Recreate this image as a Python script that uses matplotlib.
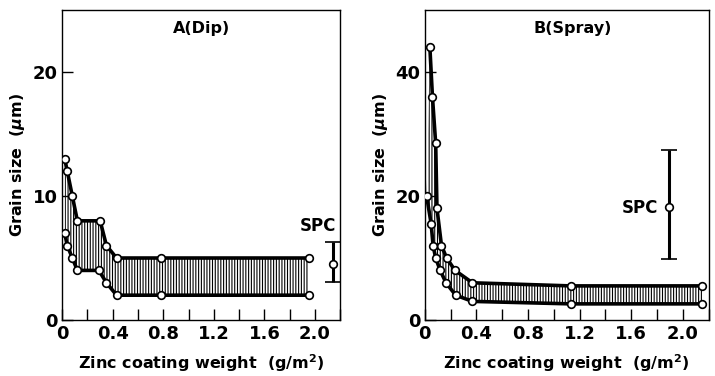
import matplotlib
matplotlib.use("Agg")
import matplotlib.pyplot as plt
import numpy as np

plt.rcParams['font.family'] = ['DejaVu Sans']
plt.rcParams['font.weight'] = 'bold'
plt.rcParams['hatch.linewidth'] = 0.8

# panel A (dip)
a_up_x = [0.02, 0.04, 0.08, 0.12, 0.30, 0.35, 0.43, 0.78, 1.95]
a_up_y = [13.0, 12.0, 10.0, 8.0, 8.0, 6.0, 5.0, 5.0, 5.0]
a_lo_x = [0.02, 0.04, 0.08, 0.12, 0.29, 0.35, 0.43, 0.78, 1.95]
a_lo_y = [7.0, 6.0, 5.0, 4.0, 4.0, 3.0, 2.0, 2.0, 2.0]
a_spc = (2.14, 4.5, 3.1, 6.3)  # x, mean, min, max

# panel B (spray)
b_up_x = [0.04, 0.06, 0.085, 0.095, 0.13, 0.17, 0.235, 0.37, 1.13, 2.15]
b_up_y = [44.0, 36.0, 28.5, 18.0, 12.0, 10.0, 8.0, 6.0, 5.5, 5.5]
b_lo_x = [0.015, 0.05, 0.065, 0.085, 0.12, 0.165, 0.24, 0.37, 1.13, 2.15]
b_lo_y = [20.0, 15.5, 12.0, 10.0, 8.0, 6.0, 4.0, 3.0, 2.6, 2.6]
b_spc = (1.89, 18.3, 9.9, 27.5)

x_ticks = [0, 0.4, 0.8, 1.2, 1.6, 2.0]
x_labels = ['0', '0.4', '0.8', '1.2', '1.6', '2.0']


def draw_panel(ax, ux, uy, lx, ly, spc, ymax, yticks, title, title_x, spc_txt_xy):
    px = np.concatenate([ux, lx[::-1]])
    py = np.concatenate([uy, ly[::-1]])
    ax.fill(px, py, facecolor='white', edgecolor='black', hatch='||||||', linewidth=0)
    for x, y in [(ux, uy), (lx, ly)]:
        ax.plot(x, y, color='black', lw=2.6, marker='o', ms=5.5,
                mfc='white', mec='black', mew=1.2, zorder=3)
    sx, sm, slo, shi = spc
    ax.errorbar([sx], [sm], yerr=[[sm - slo], [shi - sm]], fmt='o', color='black',
                ms=5.5, mfc='white', mec='black', mew=1.2, elinewidth=2.2,
                capsize=6, capthick=1.8, zorder=3)
    ax.text(spc_txt_xy[0], spc_txt_xy[1], 'SPC', fontsize=12, fontweight='bold',
            ha='center', va='center')
    ax.set_xlim(0, 2.2)
    ax.set_ylim(0, ymax)
    ax.set_xticks(np.arange(0, 2.21, 0.2), minor=True)
    ax.set_xticks(x_ticks)
    ax.set_xticklabels(x_labels, fontsize=13, fontweight='bold')
    ax.set_yticks(yticks)
    ax.set_yticklabels([str(t) for t in yticks], fontsize=13, fontweight='bold')
    ax.tick_params(direction='in', length=8, width=1, which='both')
    ax.tick_params(axis='y', pad=3)
    for s in ax.spines.values():
        s.set_linewidth(1.0)
    ax.text(title_x, 0.94, title, transform=ax.transAxes, fontsize=11.5,
            fontweight='bold', ha='center', va='center')
    ax.set_xlabel('Zinc coating weight  (g/m$^\\mathbf{2}$)', fontsize=11.5,
                  fontweight='bold', labelpad=7)
    ax.set_ylabel('Grain size  ($\\mu$m)', fontsize=11.5, fontweight='bold', labelpad=4)


fig = plt.figure(figsize=(7.15, 3.76), dpi=100)
ax1 = fig.add_axes([0.087, 0.149, 0.389, 0.824])
ax2 = fig.add_axes([0.594, 0.149, 0.397, 0.824])

draw_panel(ax1, a_up_x, a_up_y, a_lo_x, a_lo_y, a_spc, 25, [0, 10, 20],
           'A(Dip)', 0.5, (2.02, 7.6))
draw_panel(ax2, b_up_x, b_up_y, b_lo_x, b_lo_y, b_spc, 50, [0, 20, 40],
           'B(Spray)', 0.52, (1.67, 18.0))

fig.savefig('out.png', dpi=100)
